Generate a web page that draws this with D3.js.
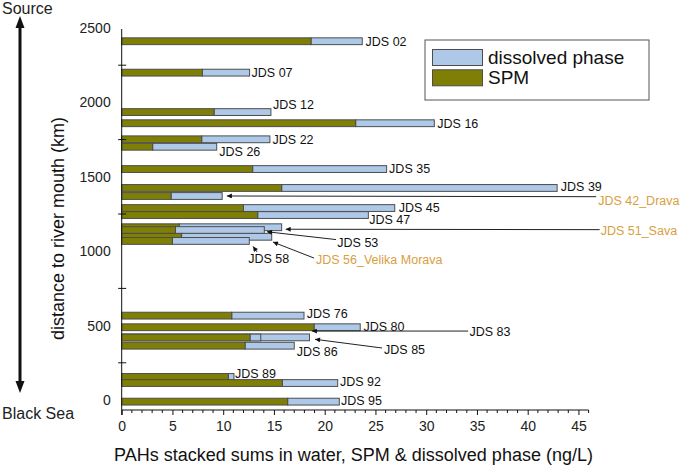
<!DOCTYPE html>
<html>
<head>
<meta charset="utf-8">
<script src="https://cdn.jsdelivr.net/npm/d3@7"></script>
<style>
  html, body { margin: 0; padding: 0; background: #fff; }
  svg { display: block; font-family: "Liberation Sans", Arial, sans-serif; }
</style>
</head>
<body>
<svg id="chart" width="685" height="468"></svg>
<script>
// ---------------- data ----------------
const sites = ["JDS 02","JDS 07","JDS 12","JDS 16","JDS 22","JDS 26","JDS 35","JDS 39",
  "JDS 42_Drava","JDS 45","JDS 47","JDS 51_Sava","JDS 53","JDS 56_Velika Morava","JDS 58",
  "JDS 76","JDS 80","JDS 83","JDS 85","JDS 86","JDS 89","JDS 92","JDS 95"];
const riverKm = [2411, 2200, 1935, 1860, 1752, 1702, 1552, 1425,
  1371, 1290, 1243, 1161, 1142, 1097, 1069,
  567, 489, 421, 420, 365, 155, 114, -11];
const spm = [18.65, 7.94, 9.1, 23.05, 7.88, 3.05, 12.9, 15.76,
  4.86, 12.0, 13.4, 5.67, 5.3, 5.9, 4.99,
  10.84, 18.95, 12.3, 12.64, 12.15, 10.5, 15.82, 16.35];
const dissolved = [5.05, 4.66, 5.6, 7.75, 6.72, 6.31, 13.2, 27.14,
  5.04, 14.9, 10.9, 10.09, 8.75, 8.88, 7.58,
  7.12, 4.55, 6.2, 1.06, 4.85, 0.56, 5.46, 5.09];
const tributaries = ["JDS 42_Drava","JDS 51_Sava","JDS 56_Velika Morava"];
const seriesNames = ["dissolved phase","SPM"];
const xTicks = [0,5,10,15,20,25,30,35,40,45];
const yTicks = [0,500,1000,1500,2000,2500];
const yMinorTicks = [250,750,1250,1750,2250];

// ---------------- layout ----------------
const colSPM = "#7f7f06", colDis = "#aec8e8", barStroke = "#4d4d4d";
const orange = "#d9a040";
const svg = d3.select("#chart");

const x = d3.scaleLinear().domain([0, 46]).range([121.7, 588.6]);
const y = d3.scaleLinear().domain([0, 2500]).range([400, 28]);
const barH = 6.8;
const axisY = 410;

// label placement relative to bar end (px)
const labelPos = {
  "JDS 02": {dx:3.3, dy:0}, "JDS 07": {dx:2, dy:0}, "JDS 12": {dx:2, dy:-7.3},
  "JDS 16": {dx:3, dy:0}, "JDS 22": {dx:2.7, dy:0}, "JDS 26": {dx:2.6, dy:5},
  "JDS 35": {dx:2.5, dy:0}, "JDS 39": {dx:3.7, dy:-1}, "JDS 45": {dx:4, dy:-0.3},
  "JDS 47": {dx:0.8, dy:5}, "JDS 76": {dx:2.7, dy:-2.4}, "JDS 80": {dx:3.3, dy:-1},
  "JDS 86": {dx:2.4, dy:6}, "JDS 89": {dx:1, dy:-3.7}, "JDS 92": {dx:2.3, dy:-1},
  "JDS 95": {dx:1.7, dy:-1.5},
  "JDS 42_Drava": {dx:376, dy:5, from:[374,0.7], to:[4.7,0]},
  "JDS 51_Sava": {dx:319, dy:3.7, from:[318,2.4], to:[4,2]},
  "JDS 53": {dx:73, dy:12.7, from:[71.7,9.5], to:[2.7,1.7]},
  "JDS 56_Velika Morava": {dx:44.3, dy:22.6, from:[42.3,21.3], to:[1.3,5.3]},
  "JDS 58": {dx:-1, dy:17.3, from:[7.7,11], to:[3.7,5.5]},
  "JDS 83": {dx:160, dy:-5.6, from:[158.7,-6.3], to:[2.4,-6.3]},
  "JDS 85": {dx:123.3, dy:11.8, from:[121.3,10.5], to:[54.3,1.8]}
};

const data = sites.map((s, i) => ({
  site: s, km: riverKm[i], spm: spm[i], dis: dissolved[i], total: spm[i] + dissolved[i]
}));
// upstream first, downstream bars drawn on top
const drawOrder = data.slice().sort((a, b) => b.km - a.km);

// arrow marker
svg.append("defs").append("marker")
  .attr("id", "ah").attr("viewBox", "0 0 10 10").attr("refX", 10).attr("refY", 5)
  .attr("markerWidth", 6).attr("markerHeight", 5).attr("markerUnits", "userSpaceOnUse")
  .attr("orient", "auto")
  .append("path").attr("d", "M0,0 L10,5 L0,10 z").attr("fill", "#111");

// ---------------- bars ----------------
const gBars = svg.append("g");
drawOrder.forEach(d => {
  const yc = y(d.km);
  gBars.append("rect")
    .attr("x", x(d.spm)).attr("y", yc - barH / 2)
    .attr("width", x(d.total) - x(d.spm)).attr("height", barH)
    .attr("fill", colDis).attr("stroke", barStroke).attr("stroke-width", 1);
  gBars.append("rect")
    .attr("x", x(0)).attr("y", yc - barH / 2)
    .attr("width", x(d.spm) - x(0)).attr("height", barH)
    .attr("fill", colSPM).attr("stroke", barStroke).attr("stroke-width", 1);
});

// ---------------- labels & callouts ----------------
const gLab = svg.append("g").attr("font-size", 12.5);
data.forEach(d => {
  const p = labelPos[d.site] || {dx:3, dy:0};
  const xe = x(d.total), yc = y(d.km);
  if (p.from) {
    gLab.append("line")
      .attr("x1", xe + p.from[0]).attr("y1", yc + p.from[1])
      .attr("x2", xe + p.to[0]).attr("y2", yc + p.to[1])
      .attr("stroke", "#222").attr("stroke-width", 1)
      .attr("marker-end", "url(#ah)");
  }
  gLab.append("text")
    .attr("x", xe + p.dx).attr("y", yc + p.dy).attr("dy", "0.35em")
    .attr("fill", tributaries.includes(d.site) ? orange : "#111")
    .text(d.site);
});

// ---------------- axes ----------------
const xAxis = d3.axisBottom(x).tickValues(xTicks).tickSize(5).tickPadding(6)
  .tickFormat(d3.format("d"));
const gx = svg.append("g").attr("transform", `translate(0,${axisY})`).call(xAxis);
gx.select(".domain").attr("d", `M${x(0)},0H${x(46)}`).attr("stroke", "#111");
gx.selectAll(".tick line").attr("stroke", "#111");
gx.selectAll(".tick text").attr("font-size", 14).attr("fill", "#222")
  .attr("font-family", "Liberation Sans, Arial, sans-serif");
gx.selectAll(".minor").data(d3.range(0, 47).filter(v => v % 5 !== 0)).enter()
  .append("line").attr("class", "minor")
  .attr("x1", d => x(d)).attr("x2", d => x(d)).attr("y1", 0).attr("y2", 3)
  .attr("stroke", "#111");

const yAxis = d3.axisLeft(y).tickValues(yTicks).tickSize(0).tickPadding(11)
  .tickFormat(d3.format("d"));
const gy = svg.append("g").attr("transform", `translate(${x(0)},0)`).call(yAxis);
gy.select(".domain").attr("d", `M0,29V${axisY + 5}`).attr("stroke", "#111");
gy.selectAll(".tick text").attr("font-size", 14).attr("fill", "#222")
  .attr("font-family", "Liberation Sans, Arial, sans-serif");
gy.selectAll(".minor").data(yMinorTicks).enter()
  .append("line").attr("class", "minor")
  .attr("x1", -3.5).attr("x2", 4.5).attr("y1", d => y(d)).attr("y2", d => y(d))
  .attr("stroke", "#111");

// axis titles
svg.append("text").attr("x", (112 + 595) / 2).attr("y", 455).attr("dy", "0.35em")
  .attr("text-anchor", "middle").attr("font-size", 18).attr("fill", "#111")
  .text("PAHs stacked sums in water, SPM & dissolved phase (ng/L)");
svg.append("text").attr("transform", "translate(58,228.5) rotate(-90)")
  .attr("dy", "0.35em").attr("text-anchor", "middle").attr("font-size", 18).attr("fill", "#111")
  .text("distance to river mouth (km)");

// source / black sea arrow
svg.append("text").attr("x", 2).attr("y", 8.5).attr("dy", "0.35em")
  .attr("font-size", 16).attr("fill", "#222").text("Source");
svg.append("text").attr("x", 2).attr("y", 413).attr("dy", "0.35em")
  .attr("font-size", 16).attr("fill", "#222").text("Black Sea");
svg.append("line").attr("x1", 20).attr("x2", 20).attr("y1", 26).attr("y2", 383)
  .attr("stroke", "#111").attr("stroke-width", 3);
svg.append("path").attr("d", "M20,16 L15.5,28 L24.5,28 Z").attr("fill", "#111");
svg.append("path").attr("d", "M20,393 L15.5,381 L24.5,381 Z").attr("fill", "#111");

// ---------------- legend ----------------
const lg = svg.append("g");
lg.append("rect").attr("x", 425).attr("y", 40).attr("width", 224).attr("height", 60)
  .attr("fill", "#fff").attr("stroke", "#555").attr("stroke-width", 1);
const legCols = [colDis, colSPM];
seriesNames.forEach((n, i) => {
  lg.append("rect").attr("x", 432.5).attr("y", 49.5 + i * 20.3).attr("width", 50).attr("height", 16)
    .attr("fill", legCols[i]).attr("stroke", barStroke).attr("stroke-width", 1);
  lg.append("text").attr("x", 488).attr("y", 57.5 + i * 20.3).attr("dy", "0.35em")
    .attr("font-size", 19).attr("fill", "#111").text(n);
});
</script>
</body>
</html>
